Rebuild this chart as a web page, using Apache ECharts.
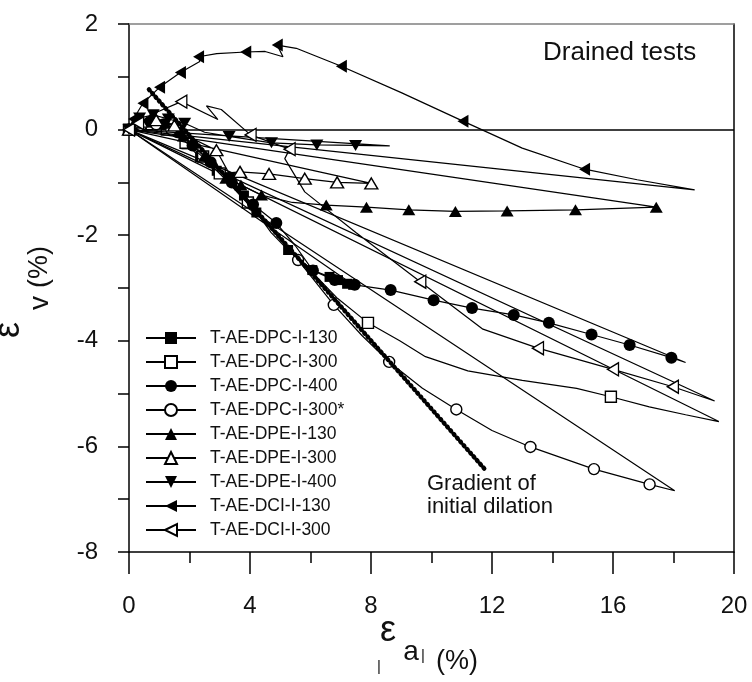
<!DOCTYPE html>
<html><head><meta charset="utf-8">
<script src="https://cdn.jsdelivr.net/npm/echarts@6/dist/echarts.min.js"></script>
<style>html,body{margin:0;padding:0;background:#fff}#c{width:752px;height:682px}</style>
</head><body><div id="c"></div>
<script>
// axis ranges
const xRange = [0, 20], xStep = 4;
const yRange = [-8, 2], yStep = 2;

// [x, y, markerShown]
const dpc130 = [[0,0,1],[0.25,0.06,1],[0.55,0.1,1],[0.9,0.1,1],[1.3,0.02,1],[1.9,-0.28,1],[2.35,-0.52,1],[2.9,-0.78,1],[3.33,-0.9,1],[3.8,-1.25,1],[4.21,-1.57,1],[4.7,-1.95,0],[5.26,-2.28,1],[6.06,-2.66,1],[6.63,-2.79,1],[6.91,-2.85,1],[7.21,-2.92,1],[7.41,-2.94,1],[0,0,0]];
const dpc300 = [[0,0,1],[0.3,0.08,1],[0.75,0.1,1],[1.25,0.0,1],[1.87,-0.25,1],[2.45,-0.51,1],[3.0,-0.83,1],[3.93,-1.38,1],[4.9,-2.0,0],[5.8,-2.55,0],[6.9,-3.2,0],[7.9,-3.66,1],[8.95,-4.0,0],[9.8,-4.3,0],[11.2,-4.57,0],[13.0,-4.75,0],[14.8,-4.9,0],[15.93,-5.06,1],[17.2,-5.25,0],[18.4,-5.4,0],[19.5,-5.53,0],[0,0,0]];
const dpc400 = [[0,0,1],[0.3,0.1,1],[0.7,0.15,1],[1.15,0.1,1],[1.6,-0.05,1],[2.1,-0.3,1],[2.7,-0.62,1],[3.4,-1.0,1],[4.1,-1.42,1],[4.87,-1.77,1],[5.5,-2.2,0],[6.08,-2.67,1],[6.8,-2.85,1],[7.46,-2.94,1],[8.65,-3.04,1],[10.07,-3.23,1],[11.34,-3.38,1],[12.72,-3.51,1],[13.88,-3.66,1],[15.29,-3.88,1],[16.55,-4.08,1],[17.93,-4.32,1],[18.4,-4.41,0],[0,0,0]];
const dpc300s = [[0,0,1],[0.4,0.08,1],[0.9,0.1,1],[1.4,0.0,1],[1.8,-0.2,0],[2.5,-0.55,0],[3.2,-0.95,0],[4.0,-1.45,0],[4.8,-1.95,0],[5.59,-2.47,1],[6.77,-3.32,1],[7.7,-3.9,0],[8.6,-4.4,1],[9.7,-4.9,0],[10.82,-5.3,1],[12.0,-5.7,0],[13.27,-6.01,1],[15.37,-6.43,1],[17.21,-6.72,1],[18.04,-6.84,0],[0,0,0]];
const dpe130 = [[0,0,1],[0.3,0.12,1],[0.7,0.2,1],[1.2,0.12,1],[1.8,-0.12,1],[2.5,-0.5,1],[3.2,-0.92,1],[3.7,-1.05,1],[4.38,-1.24,1],[5.4,-1.38,0],[6.52,-1.43,1],[7.85,-1.47,1],[9.25,-1.52,1],[10.79,-1.55,1],[12.5,-1.54,1],[14.76,-1.52,1],[17.43,-1.47,1],[0,0,0]];
const dpe300 = [[0,0,1],[0.4,0.15,1],[0.9,0.18,1],[1.5,0.08,1],[2.2,-0.2,0],[2.89,-0.39,1],[3.3,-0.82,0],[3.67,-0.8,1],[4.63,-0.84,1],[5.81,-0.93,1],[6.88,-1.0,1],[8.01,-1.02,1],[0,0,0]];
const dpe400 = [[0,0,1],[0.35,0.22,1],[0.8,0.28,1],[1.3,0.2,1],[1.84,0.12,1],[2.5,-0.05,0],[3.31,-0.13,1],[4.71,-0.25,1],[6.21,-0.29,1],[7.49,-0.3,1],[8.62,-0.31,0],[0,0,0]];
const dci130 = [[0,0,1],[0.15,0.2,1],[0.46,0.5,1],[1.01,0.8,1],[1.7,1.08,1],[2.34,1.29,0],[2.3,1.38,1],[2.9,1.44,0],[3.86,1.47,1],[4.5,1.48,0],[5.09,1.38,0],[4.9,1.6,1],[5.53,1.54,0],[7.02,1.2,1],[9.0,0.7,0],[11.04,0.16,1],[13.0,-0.35,0],[15.06,-0.75,1],[16.8,-0.95,0],[18.7,-1.14,0],[0,0,0]];
const dci300 = [[0,0,1],[0.3,0.12,1],[0.8,0.3,0],[1.73,0.53,1],[2.94,0.19,0],[2.56,0.45,0],[3.05,0.38,0],[4.02,-0.1,1],[5.31,-0.37,1],[5.15,-0.55,0],[5.81,-1.18,0],[7.5,-1.95,0],[9.63,-2.88,1],[11.7,-3.78,0],[13.52,-4.14,1],[16.0,-4.54,1],[17.98,-4.87,1],[19.36,-5.14,0],[0,0,0]];
const gradientLine = [[0.66,0.76],[11.76,-6.43]];

const names = ['T-AE-DPC-I-130','T-AE-DPC-I-300','T-AE-DPC-I-400','T-AE-DPC-I-300*','T-AE-DPE-I-130','T-AE-DPE-I-300','T-AE-DPE-I-400','T-AE-DCI-I-130','T-AE-DCI-I-300'];
const sets = [dpc130, dpc300, dpc400, dpc300s, dpe130, dpe300, dpe400, dci130, dci300];
const syms = [
  {symbol:'rect', size:10, fill:'#000', rot:0},
  {symbol:'rect', size:11, fill:'#fff', rot:0},
  {symbol:'circle', size:12, fill:'#000', rot:0},
  {symbol:'circle', size:11, fill:'#fff', rot:0},
  {symbol:'triangle', size:[13,11], fill:'#000', rot:0},
  {symbol:'triangle', size:[13,11], fill:'#fff', rot:0},
  {symbol:'triangle', size:[13,11], fill:'#000', rot:180},
  {symbol:'triangle', size:[13,11], fill:'#000', rot:90},
  {symbol:'triangle', size:[13,11], fill:'#fff', rot:90}
];

const series = sets.map((pts, i) => {
  const s = syms[i];
  return {
    name: names[i], type: 'line', silent: true, animation: false,
    symbol: s.symbol, symbolSize: s.size, symbolRotate: s.rot, showAllSymbol: true,
    data: pts.map(p => p[2] ? {value:[p[0], p[1]]} : {value:[p[0], p[1]], symbol:'none'}),
    lineStyle: {color:'#000', width:1.2},
    itemStyle: {color: s.fill, borderColor:'#000', borderWidth: s.fill === '#fff' ? 1.4 : 0},
    z: 3 + i
  };
});
series.push({
  name: 'gradient', type: 'line', silent: true, animation: false, symbol: 'none',
  data: gradientLine,
  lineStyle: {color:'#000', width:4.5, type:[1,4], cap:'round'},
  z: 20,
  markLine: {silent:true, symbol:'none', animation:false, label:{show:false},
    lineStyle:{color:'#000', width:1.5, type:'solid'}, data:[{yAxis:0}]}
});

const F = 'Liberation Sans, Arial, sans-serif';
const chart = echarts.init(document.getElementById('c'), null, {renderer:'canvas'});
chart.setOption({
  backgroundColor: '#fff',
  animation: false,
  grid: {left:129, right:18, top:24, bottom:130},
  xAxis: [{
    type:'value', min:xRange[0], max:xRange[1], interval:xStep,
    axisLine:{show:true, onZero:false, lineStyle:{color:'#000', width:1.5}},
    axisTick:{show:true, inside:false, length:22, lineStyle:{color:'#000', width:1.5}},
    minorTick:{show:true, splitNumber:2, length:11, lineStyle:{color:'#000', width:1.5}},
    splitLine:{show:false},
    axisLabel:{fontSize:24, color:'#111', fontFamily:F, margin:42}
  },{
    type:'value', position:'top', min:xRange[0], max:xRange[1],
    axisLine:{show:true, onZero:false, lineStyle:{color:'#808080', width:1.5}},
    axisTick:{show:false}, axisLabel:{show:false}, splitLine:{show:false}
  }],
  yAxis: [{
    type:'value', min:yRange[0], max:yRange[1], interval:yStep,
    axisLine:{show:true, onZero:false, lineStyle:{color:'#000', width:1.5}},
    axisTick:{show:true, inside:false, length:11, lineStyle:{color:'#000', width:1.5}},
    minorTick:{show:true, splitNumber:2, length:11, lineStyle:{color:'#000', width:1.5}},
    splitLine:{show:false},
    axisLabel:{fontSize:24, color:'#111', fontFamily:F, margin:31}
  },{
    type:'value', position:'right', min:yRange[0], max:yRange[1],
    axisLine:{show:true, onZero:false, lineStyle:{color:'#000', width:1.5}},
    axisTick:{show:false}, axisLabel:{show:false}, splitLine:{show:false}
  }],
  legend: {
    data: names, orient:'vertical', left:145, top:328, padding:0,
    itemWidth:50, itemHeight:15, itemGap:4,
    textStyle:{fontSize:17.5, fontFamily:F, color:'#111', lineHeight:20, padding:[0,0,0,9]},
    selectedMode:false
  },
  graphic: [
    {type:'text', left:543, top:40, style:{text:'Drained tests', font:'26px '+F, fill:'#111'}},
    {type:'text', x:427, y:484, style:{text:'Gradient of', font:'22px '+F, fill:'#111', verticalAlign:'middle'}},
    {type:'text', x:427, y:507, style:{text:'initial dilation', font:'22px '+F, fill:'#111', verticalAlign:'middle'}},
    // x axis title |εa| (%)
    {type:'text', x:379, y:667, style:{text:'|', font:'15px '+F, fill:'#111', align:'center', verticalAlign:'middle'}},
    {type:'text', x:388, y:631, style:{text:'ε', font:'36px '+F, fill:'#111', align:'center', verticalAlign:'middle'}},
    {type:'text', x:411, y:652, style:{text:'a', font:'28px '+F, fill:'#111', align:'center', verticalAlign:'middle'}},
    {type:'text', x:423, y:656, style:{text:'|', font:'15px '+F, fill:'#111', align:'center', verticalAlign:'middle'}},
    {type:'text', x:436, y:662, style:{text:'(%)', font:'27px '+F, fill:'#111', align:'left', verticalAlign:'middle'}},
    // y axis title εv (%)
    {type:'text', x:9, y:330, rotation:Math.PI/2, style:{text:'ε', font:'36px '+F, fill:'#111', align:'center', verticalAlign:'middle'}},
    {type:'text', x:40, y:303, rotation:Math.PI/2, style:{text:'v', font:'28px '+F, fill:'#111', align:'center', verticalAlign:'middle'}},
    {type:'text', x:40, y:288, rotation:Math.PI/2, style:{text:'(%)', font:'27px '+F, fill:'#111', align:'left', verticalAlign:'middle'}}
  ],
  series: series
});
</script></body></html>
